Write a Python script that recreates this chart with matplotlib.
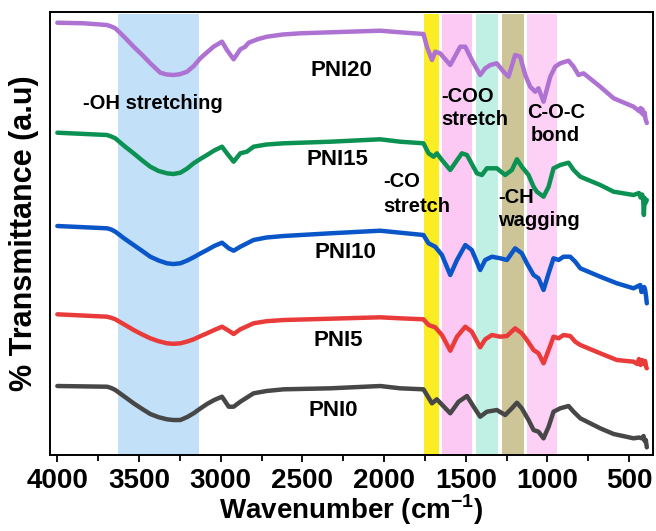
import matplotlib
matplotlib.use('Agg')
import matplotlib.pyplot as plt
from matplotlib.ticker import MultipleLocator

# FTIR spectra of the PNI films, stacked with a vertical offset (a.u.)
wn_pni20 = [4000, 3839, 3696, 3670, 3645, 3590, 3533, 3480, 3431, 3370, 3330, 3288, 3250, 3206, 3165,
            3125, 3085, 3044, 2992, 2962, 2921, 2880, 2850, 2829, 2770, 2717, 2620, 2513, 2329, 2024,
            1901, 1759, 1738, 1707, 1687, 1657, 1595, 1534, 1503, 1463, 1412, 1381, 1350, 1310, 1269,
            1238, 1198, 1167, 1136, 1106, 1075, 1055, 1024, 983, 953, 922, 871, 840, 810, 779,
            677, 595, 473, 440, 430, 425, 418, 412, 405, 400, 392]
t_pni20 = [432.3, 431.7, 430.0, 428.5, 426.7, 418.0, 408.3, 400.0, 391.7, 382.3, 380.5, 380.0, 380.8, 383.3, 389.0,
           396.7, 402.5, 408.3, 413.3, 405.0, 395.7, 405.7, 408.3, 412.3, 416.0, 418.3, 420.5, 421.7, 422.7, 424.3,
           422.7, 421.0, 408.3, 395.0, 403.3, 401.7, 390.0, 408.3, 408.3, 395.0, 380.0, 386.7, 390.0, 391.7, 383.3,
           378.3, 400.0, 398.3, 380.0, 368.3, 363.3, 366.7, 353.3, 378.3, 388.3, 391.7, 394.3, 388.3, 380.0, 381.7,
           368.3, 356.7, 348.3, 344.0, 347.0, 342.0, 345.5, 340.0, 342.5, 336.0, 332.0]

wn_pni15 = [4000, 3696, 3670, 3645, 3590, 3533, 3480, 3431, 3380, 3329, 3290, 3247, 3205, 3166, 3125,
            3084, 3040, 2992, 2962, 2921, 2880, 2840, 2799, 2720, 2615, 2329, 2024, 1901, 1759, 1728,
            1697, 1677, 1646, 1595, 1524, 1493, 1432, 1401, 1371, 1310, 1259, 1218, 1187, 1157, 1116,
            1085, 1065, 1024, 993, 963, 922, 871, 840, 799, 677, 595, 473, 440, 430, 420, 414,
            410, 405, 400, 392]
t_pni15 = [322.3, 320.0, 318.5, 316.7, 309.0, 301.7, 294.5, 288.3, 284.0, 281.7, 281.0, 282.3, 286.5, 291.7, 296.0,
           300.0, 304.5, 308.3, 301.7, 293.3, 301.7, 303.3, 308.3, 310.5, 311.7, 313.3, 315.7, 313.3, 311.7, 301.7,
           298.3, 301.7, 295.0, 285.0, 301.7, 300.0, 281.7, 280.0, 286.7, 286.7, 280.0, 285.0, 295.7, 288.3, 280.0,
           268.3, 263.3, 258.3, 268.3, 286.7, 290.0, 292.3, 285.0, 278.3, 270.0, 263.3, 260.0, 262.0, 257.5, 260.5, 255.0,
           240.0, 257.0, 252.0, 255.0]

wn_pni10 = [4000, 3696, 3670, 3645, 3590, 3533, 3480, 3431, 3380, 3329, 3290, 3247, 3205, 3166, 3125,
            3084, 3040, 2992, 2951, 2921, 2880, 2799, 2720, 2615, 2329, 2024, 1901, 1759, 1728, 1687,
            1646, 1595, 1554, 1503, 1463, 1412, 1381, 1340, 1289, 1248, 1198, 1157, 1126, 1085, 1055,
            1024, 993, 963, 932, 902, 861, 830, 799, 677, 575, 473, 445, 432, 425, 415, 408,
            402, 396, 392]
t_pni10 = [229.0, 226.7, 225.5, 223.3, 216.5, 210.0, 204.0, 198.3, 194.5, 191.7, 191.0, 191.7, 194.5, 197.7, 201.5,
           205.0, 209.0, 212.3, 206.7, 204.3, 208.3, 215.0, 217.5, 219.0, 221.7, 224.3, 222.3, 220.0, 211.7, 208.3,
           200.0, 180.0, 195.0, 210.0, 205.0, 185.0, 195.0, 198.3, 196.7, 195.0, 206.7, 201.7, 191.7, 180.0, 176.7,
           165.0, 181.7, 196.7, 195.0, 198.3, 198.3, 193.3, 186.7, 178.3, 171.7, 166.7, 169.0, 170.0, 163.0, 164.0, 168.0,
           165.0, 158.0, 151.7]

wn_pni5 = [4000, 3696, 3670, 3645, 3590, 3533, 3480, 3431, 3380, 3329, 3290, 3247, 3205, 3166, 3125,
           3084, 3040, 2992, 2951, 2921, 2880, 2799, 2720, 2615, 2329, 2024, 1901, 1759, 1728, 1687,
           1646, 1595, 1554, 1503, 1463, 1412, 1381, 1340, 1289, 1248, 1198, 1157, 1126, 1085, 1055,
           1024, 993, 963, 932, 902, 861, 830, 799, 677, 575, 473, 450, 440, 430, 420, 410,
           402, 396, 392]
t_pni5 = [140.7, 138.3, 137.2, 135.7, 130.5, 125.0, 120.5, 116.7, 113.8, 111.7, 111.2, 111.7, 113.5, 115.7, 118.8,
          121.7, 125.0, 128.3, 124.3, 121.0, 125.7, 131.7, 133.8, 135.0, 136.3, 137.7, 136.7, 135.7, 130.0, 127.7,
          120.0, 104.3, 118.3, 128.3, 123.3, 107.7, 115.7, 120.0, 118.3, 119.0, 126.7, 121.7, 115.0, 105.0, 101.7,
          91.7, 105.0, 118.3, 116.7, 120.0, 119.0, 113.3, 110.0, 101.7, 95.0, 93.3, 91.0, 96.0, 90.0, 95.0, 91.0,
          94.0, 88.0, 86.7]

wn_pni0 = [4000, 3696, 3670, 3645, 3590, 3533, 3480, 3431, 3380, 3329, 3290, 3247, 3205, 3166, 3125,
           3084, 3040, 2992, 2951, 2921, 2880, 2799, 2720, 2615, 2329, 2024, 1901, 1759, 1707, 1677,
           1595, 1544, 1493, 1452, 1412, 1371, 1310, 1259, 1218, 1187, 1157, 1116, 1085, 1055, 1024,
           993, 963, 922, 871, 840, 799, 677, 595, 473, 440, 422, 412, 405, 398, 392]
t_pni0 = [69.0, 68.3, 67.0, 65.0, 58.5, 51.7, 46.0, 41.0, 37.8, 35.7, 35.0, 35.0, 38.0, 41.7, 46.5,
          51.0, 55.0, 58.3, 48.3, 48.3, 53.3, 61.7, 64.0, 65.7, 66.7, 69.0, 66.7, 65.7, 51.7, 55.7,
          41.7, 53.3, 59.0, 48.3, 38.3, 43.3, 45.0, 40.0, 46.7, 52.3, 46.7, 35.0, 25.0, 23.3, 16.7,
          28.3, 43.3, 46.7, 49.0, 43.3, 36.7, 26.7, 21.0, 16.7, 17.5, 16.7, 19.0, 14.0, 15.0, 7.7]

samples = ['PNI0', 'PNI5', 'PNI10', 'PNI15', 'PNI20']
wavenumbers = [wn_pni0, wn_pni5, wn_pni10, wn_pni15, wn_pni20]
spectra = [t_pni0, t_pni5, t_pni10, t_pni15, t_pni20]
colors = ['#474747', '#ea3b3b', '#0a56c8', '#0b9152', '#ae72d2']
label_pos = [(2311, 45), (2281, 115), (2238, 203), (2284, 295.5), (2262, 385)]

# absorption band regions (cm-1) and their shading
bands = [(3630, 3130), (1755, 1665), (1645, 1465), (1435, 1305), (1276, 1146), (1126, 941)]
band_colors = ['#c2e0f8', '#fcec24', '#fcc9f4', '#bff0e3', '#cdc598', '#fdd1f5']

plt.rcParams['font.family'] = 'Liberation Sans'
plt.rcParams['font.weight'] = 'bold'
plt.rcParams['mathtext.fontset'] = 'custom'
plt.rcParams['mathtext.bf'] = 'Liberation Sans:bold'
plt.rcParams['mathtext.rm'] = 'Liberation Sans:bold'

fig = plt.figure(figsize=(6.56, 5.31), dpi=100)
ax = fig.add_axes([0.0762, 0.1431, 0.919, 0.8343])

for (hi, lo), c in zip(bands, band_colors):
    ax.axvspan(lo, hi, ymin=0.0, ymax=0.995, color=c, lw=0, zorder=1)

for wn, t, c in zip(wavenumbers, spectra, colors):
    ax.plot(wn, t, color=c, lw=3.2, solid_joinstyle='round', solid_capstyle='round', zorder=3)

for name, (x, y) in zip(samples, label_pos):
    ax.text(x, y, name, fontsize=16, fontweight='bold', ha='center', va='center', zorder=4)

ax.text(3841, 352, '-OH stretching', fontsize=14.5, ha='left', va='center', zorder=4)
ax.text(2007, 261, '-CO\nstretch', fontsize=14.5, ha='left', va='center', linespacing=1.35, zorder=4)
ax.text(1650, 347, '-COO\nstretch', fontsize=14.5, ha='left', va='center', linespacing=1.25, zorder=4)
ax.text(950, 331, 'C-O-C\nbond', fontsize=14.5, ha='center', va='center', linespacing=1.25, zorder=4)
ax.text(1300, 246, '-CH\nwagging', fontsize=14.5, ha='left', va='center', linespacing=1.3, zorder=4)

ax.set_xlim(4045, 355)
ax.set_ylim(0, 443)
ax.xaxis.set_major_locator(MultipleLocator(500))
ax.xaxis.set_minor_locator(MultipleLocator(250))
ax.tick_params(axis='x', which='major', direction='out', length=5, width=1.3, labelsize=20, pad=4)
ax.tick_params(axis='x', which='minor', direction='out', length=4, width=1.3)
ax.set_yticks([])
for lab in ax.get_xticklabels():
    lab.set_fontweight('bold')
for sp in ax.spines.values():
    sp.set_linewidth(1.4)

ax.set_xlabel('Wavenumber (cm$^{\\mathbf{-1}}$)', fontsize=20, fontweight='bold', labelpad=-1)
ax.set_ylabel('% Transmittance (a.u)', fontsize=22, fontweight='bold', labelpad=8)

fig.savefig('out.png', dpi=100)
